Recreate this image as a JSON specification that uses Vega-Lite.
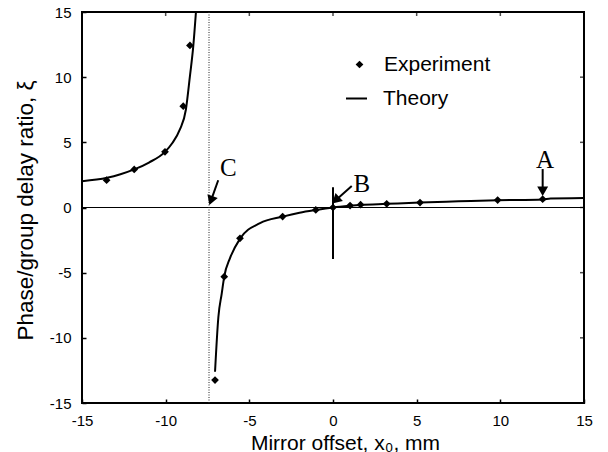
{
  "$schema": "https://vega.github.io/schema/vega-lite/v6.json",
  "width": 502,
  "height": 391,
  "autosize": {"type": "none"},
  "padding": {"left": 82, "top": 12, "right": 24, "bottom": 49},
  "background": "white",
  "config": {
    "view": {"stroke": "black", "strokeWidth": 2},
    "font": "Liberation Sans"
  },
  "datasets": {
    "theory": [
      {"series": "Theory", "branch": "left", "x": -15.0, "y": 2.02},
      {"series": "Theory", "branch": "left", "x": -13.5, "y": 2.28},
      {"series": "Theory", "branch": "left", "x": -12.7, "y": 2.55},
      {"series": "Theory", "branch": "left", "x": -11.88, "y": 2.92},
      {"series": "Theory", "branch": "left", "x": -11.0, "y": 3.45},
      {"series": "Theory", "branch": "left", "x": -10.04, "y": 4.27},
      {"series": "Theory", "branch": "left", "x": -9.6, "y": 4.95},
      {"series": "Theory", "branch": "left", "x": -9.15, "y": 5.99},
      {"series": "Theory", "branch": "left", "x": -8.79, "y": 7.52},
      {"series": "Theory", "branch": "left", "x": -8.55, "y": 10.08},
      {"series": "Theory", "branch": "left", "x": -8.35, "y": 12.38},
      {"series": "Theory", "branch": "left", "x": -8.19, "y": 15.0},
      {"series": "Theory", "branch": "right", "x": -7.05, "y": -12.6},
      {"series": "Theory", "branch": "right", "x": -6.85, "y": -8.4},
      {"series": "Theory", "branch": "right", "x": -6.65, "y": -6.6},
      {"series": "Theory", "branch": "right", "x": -6.5, "y": -5.3},
      {"series": "Theory", "branch": "right", "x": -6.16, "y": -3.9},
      {"series": "Theory", "branch": "right", "x": -5.56, "y": -2.4},
      {"series": "Theory", "branch": "right", "x": -4.36, "y": -1.2},
      {"series": "Theory", "branch": "right", "x": -3.01, "y": -0.7},
      {"series": "Theory", "branch": "right", "x": -2.0, "y": -0.4},
      {"series": "Theory", "branch": "right", "x": -1.03, "y": -0.19},
      {"series": "Theory", "branch": "right", "x": 0.0, "y": 0.0},
      {"series": "Theory", "branch": "right", "x": 1.0, "y": 0.13},
      {"series": "Theory", "branch": "right", "x": 1.65, "y": 0.2},
      {"series": "Theory", "branch": "right", "x": 3.2, "y": 0.28},
      {"series": "Theory", "branch": "right", "x": 5.2, "y": 0.38},
      {"series": "Theory", "branch": "right", "x": 7.5, "y": 0.47},
      {"series": "Theory", "branch": "right", "x": 9.84, "y": 0.56},
      {"series": "Theory", "branch": "right", "x": 12.53, "y": 0.62},
      {"series": "Theory", "branch": "right", "x": 13.0, "y": 0.7},
      {"series": "Theory", "branch": "right", "x": 15.0, "y": 0.72}
    ],
    "experiment": [
      {"series": "Experiment", "x": -13.53, "y": 2.1},
      {"series": "Experiment", "x": -11.88, "y": 2.92},
      {"series": "Experiment", "x": -10.04, "y": 4.27},
      {"series": "Experiment", "x": -8.95, "y": 7.77},
      {"series": "Experiment", "x": -8.55, "y": 12.43},
      {"series": "Experiment", "x": -7.05, "y": -13.24},
      {"series": "Experiment", "x": -6.5, "y": -5.31},
      {"series": "Experiment", "x": -5.56, "y": -2.36},
      {"series": "Experiment", "x": -3.01, "y": -0.7},
      {"series": "Experiment", "x": -1.03, "y": -0.19},
      {"series": "Experiment", "x": 0.0, "y": 0.0},
      {"series": "Experiment", "x": 1.02, "y": 0.15},
      {"series": "Experiment", "x": 1.65, "y": 0.22},
      {"series": "Experiment", "x": 3.21, "y": 0.28},
      {"series": "Experiment", "x": 5.2, "y": 0.38},
      {"series": "Experiment", "x": 9.84, "y": 0.57},
      {"series": "Experiment", "x": 12.53, "y": 0.64}
    ],
    "frameTicks": [
      {"v": -10}, {"v": -5}, {"v": 0}, {"v": 5}, {"v": 10}
    ],
    "letters": [
      {"label": "A", "x": 12.67, "y": 3.65},
      {"label": "B", "x": 1.73, "y": 1.8},
      {"label": "C", "x": -6.26, "y": 3.0}
    ],
    "arrows": [
      {"label": "A", "x": 12.53, "y": 2.95, "x2": 12.53, "y2": 1.36},
      {"label": "B", "x": 1.12, "y": 1.65, "x2": 0.23, "y2": 0.64},
      {"label": "C", "x": -6.86, "y": 2.09, "x2": -7.26, "y2": 0.64}
    ]
  },
  "layer": [
    {
      "data": {"name": "theory"},
      "mark": {"type": "line", "strokeWidth": 2, "interpolate": "monotone", "clip": true},
      "encoding": {
        "x": {
          "field": "x", "type": "quantitative",
          "scale": {"domain": [-15, 15], "nice": false, "zero": false},
          "axis": {
            "orient": "bottom",
            "values": [-15, -10, -5, 0, 5, 10, 15],
            "labelExpr": "datum.value < 0 ? '-' + format(-datum.value, 'd') : format(datum.value, 'd')",
            "domain": false, "grid": false,
            "tickSize": -4, "tickColor": "black", "tickWidth": 1.5,
            "labelPadding": 14, "labelFont": "Liberation Sans", "labelFontSize": 15,
            "labelColor": "black", "labelFlush": false,
            "title": "Mirror offset, x₀, mm",
            "titleFont": "Liberation Sans", "titleFontSize": 21, "titleFontWeight": "normal",
            "titleColor": "black", "titleX": 263, "titleY": 46, "titleBaseline": "alphabetic"
          }
        },
        "y": {
          "field": "y", "type": "quantitative",
          "scale": {"domain": [-15, 15], "nice": false, "zero": false},
          "axis": {
            "orient": "left",
            "values": [-15, -10, -5, 0, 5, 10, 15],
            "labelExpr": "datum.value < 0 ? '-' + format(-datum.value, 'd') : format(datum.value, 'd')",
            "domain": false, "grid": false,
            "tickSize": -4, "tickColor": "black", "tickWidth": 1.5,
            "labelPadding": 15, "labelFont": "Liberation Sans", "labelFontSize": 15,
            "labelColor": "black",
            "title": "Phase/group delay ratio, ξ",
            "titleFont": "Liberation Sans", "titleFontSize": 22.5, "titleFontWeight": "normal",
            "titleColor": "black", "titleX": -50, "titleY": 198, "titleBaseline": "alphabetic"
          }
        },
        "detail": {"field": "branch", "type": "nominal"},
        "color": {
          "field": "series", "type": "nominal",
          "scale": {"domain": ["Theory"], "range": ["black"]},
          "legend": {
            "orient": "none", "legendX": 263, "legendY": 75,
            "title": null, "padding": 0,
            "labelFont": "Liberation Sans", "labelFontSize": 21, "labelColor": "black",
            "labelOffset": 15,
            "symbolType": "stroke", "symbolSize": 441, "symbolStrokeWidth": 2,
            "symbolStrokeColor": "black"
          }
        }
      }
    },
    {
      "data": {"values": [{}]},
      "mark": {"type": "rule", "color": "black", "strokeWidth": 1},
      "encoding": {
        "y": {"datum": 0, "type": "quantitative"}
      }
    },
    {
      "data": {"values": [{}]},
      "mark": {"type": "rule", "color": "#222222", "strokeWidth": 1, "strokeDash": [1, 1.5]},
      "encoding": {
        "x": {"datum": -7.41, "type": "quantitative"}
      }
    },
    {
      "data": {"values": [{}]},
      "mark": {"type": "rule", "color": "black", "strokeWidth": 2},
      "encoding": {
        "x": {"datum": 0, "type": "quantitative"},
        "y": {"datum": 1.55, "type": "quantitative"},
        "y2": {"datum": -3.95}
      }
    },
    {
      "data": {"name": "frameTicks"},
      "mark": {"type": "tick", "orient": "vertical", "size": 8, "thickness": 1.5, "color": "black", "clip": true},
      "encoding": {
        "x": {"field": "v", "type": "quantitative"},
        "y": {"datum": 15, "type": "quantitative"}
      }
    },
    {
      "data": {"name": "frameTicks"},
      "mark": {"type": "tick", "orient": "horizontal", "size": 8, "thickness": 1.5, "color": "black", "clip": true},
      "encoding": {
        "x": {"datum": 15, "type": "quantitative"},
        "y": {"field": "v", "type": "quantitative"}
      }
    },
    {
      "data": {"name": "experiment"},
      "mark": {"type": "point", "filled": true, "color": "black", "size": 60, "opacity": 1},
      "encoding": {
        "x": {"field": "x", "type": "quantitative"},
        "y": {"field": "y", "type": "quantitative"},
        "shape": {
          "field": "series", "type": "nominal",
          "scale": {"domain": ["Experiment"], "range": ["diamond"]},
          "legend": {
            "orient": "none", "legendX": 267, "legendY": 42,
            "title": null, "padding": 0,
            "labelFont": "Liberation Sans", "labelFontSize": 21, "labelColor": "black",
            "labelOffset": 14,
            "symbolSize": 60, "symbolFillColor": "black", "symbolStrokeColor": "black",
            "symbolOpacity": 1
          }
        }
      }
    },
    {
      "data": {"name": "arrows"},
      "mark": {"type": "rule", "color": "black", "strokeWidth": 2},
      "encoding": {
        "x": {"field": "x", "type": "quantitative"},
        "y": {"field": "y", "type": "quantitative"},
        "x2": {"field": "x2"},
        "y2": {"field": "y2"}
      }
    },
    {
      "data": {"name": "arrows"},
      "transform": [{"filter": "datum.label === 'A'"}],
      "mark": {"type": "point", "shape": "triangle", "angle": 180, "filled": true, "color": "black", "size": 120, "opacity": 1},
      "encoding": {
        "x": {"field": "x2", "type": "quantitative"},
        "y": {"field": "y2", "type": "quantitative"}
      }
    },
    {
      "data": {"name": "arrows"},
      "transform": [{"filter": "datum.label === 'B'"}],
      "mark": {"type": "point", "shape": "triangle", "angle": 228, "filled": true, "color": "black", "size": 120, "opacity": 1},
      "encoding": {
        "x": {"field": "x2", "type": "quantitative"},
        "y": {"field": "y2", "type": "quantitative"}
      }
    },
    {
      "data": {"name": "arrows"},
      "transform": [{"filter": "datum.label === 'C'"}],
      "mark": {"type": "point", "shape": "triangle", "angle": 200, "filled": true, "color": "black", "size": 120, "opacity": 1},
      "encoding": {
        "x": {"field": "x2", "type": "quantitative"},
        "y": {"field": "y2", "type": "quantitative"}
      }
    },
    {
      "data": {"name": "letters"},
      "mark": {"type": "text", "font": "Liberation Serif", "fontSize": 25, "color": "black", "align": "center", "baseline": "middle"},
      "encoding": {
        "x": {"field": "x", "type": "quantitative"},
        "y": {"field": "y", "type": "quantitative"},
        "text": {"field": "label"}
      }
    }
  ]
}
